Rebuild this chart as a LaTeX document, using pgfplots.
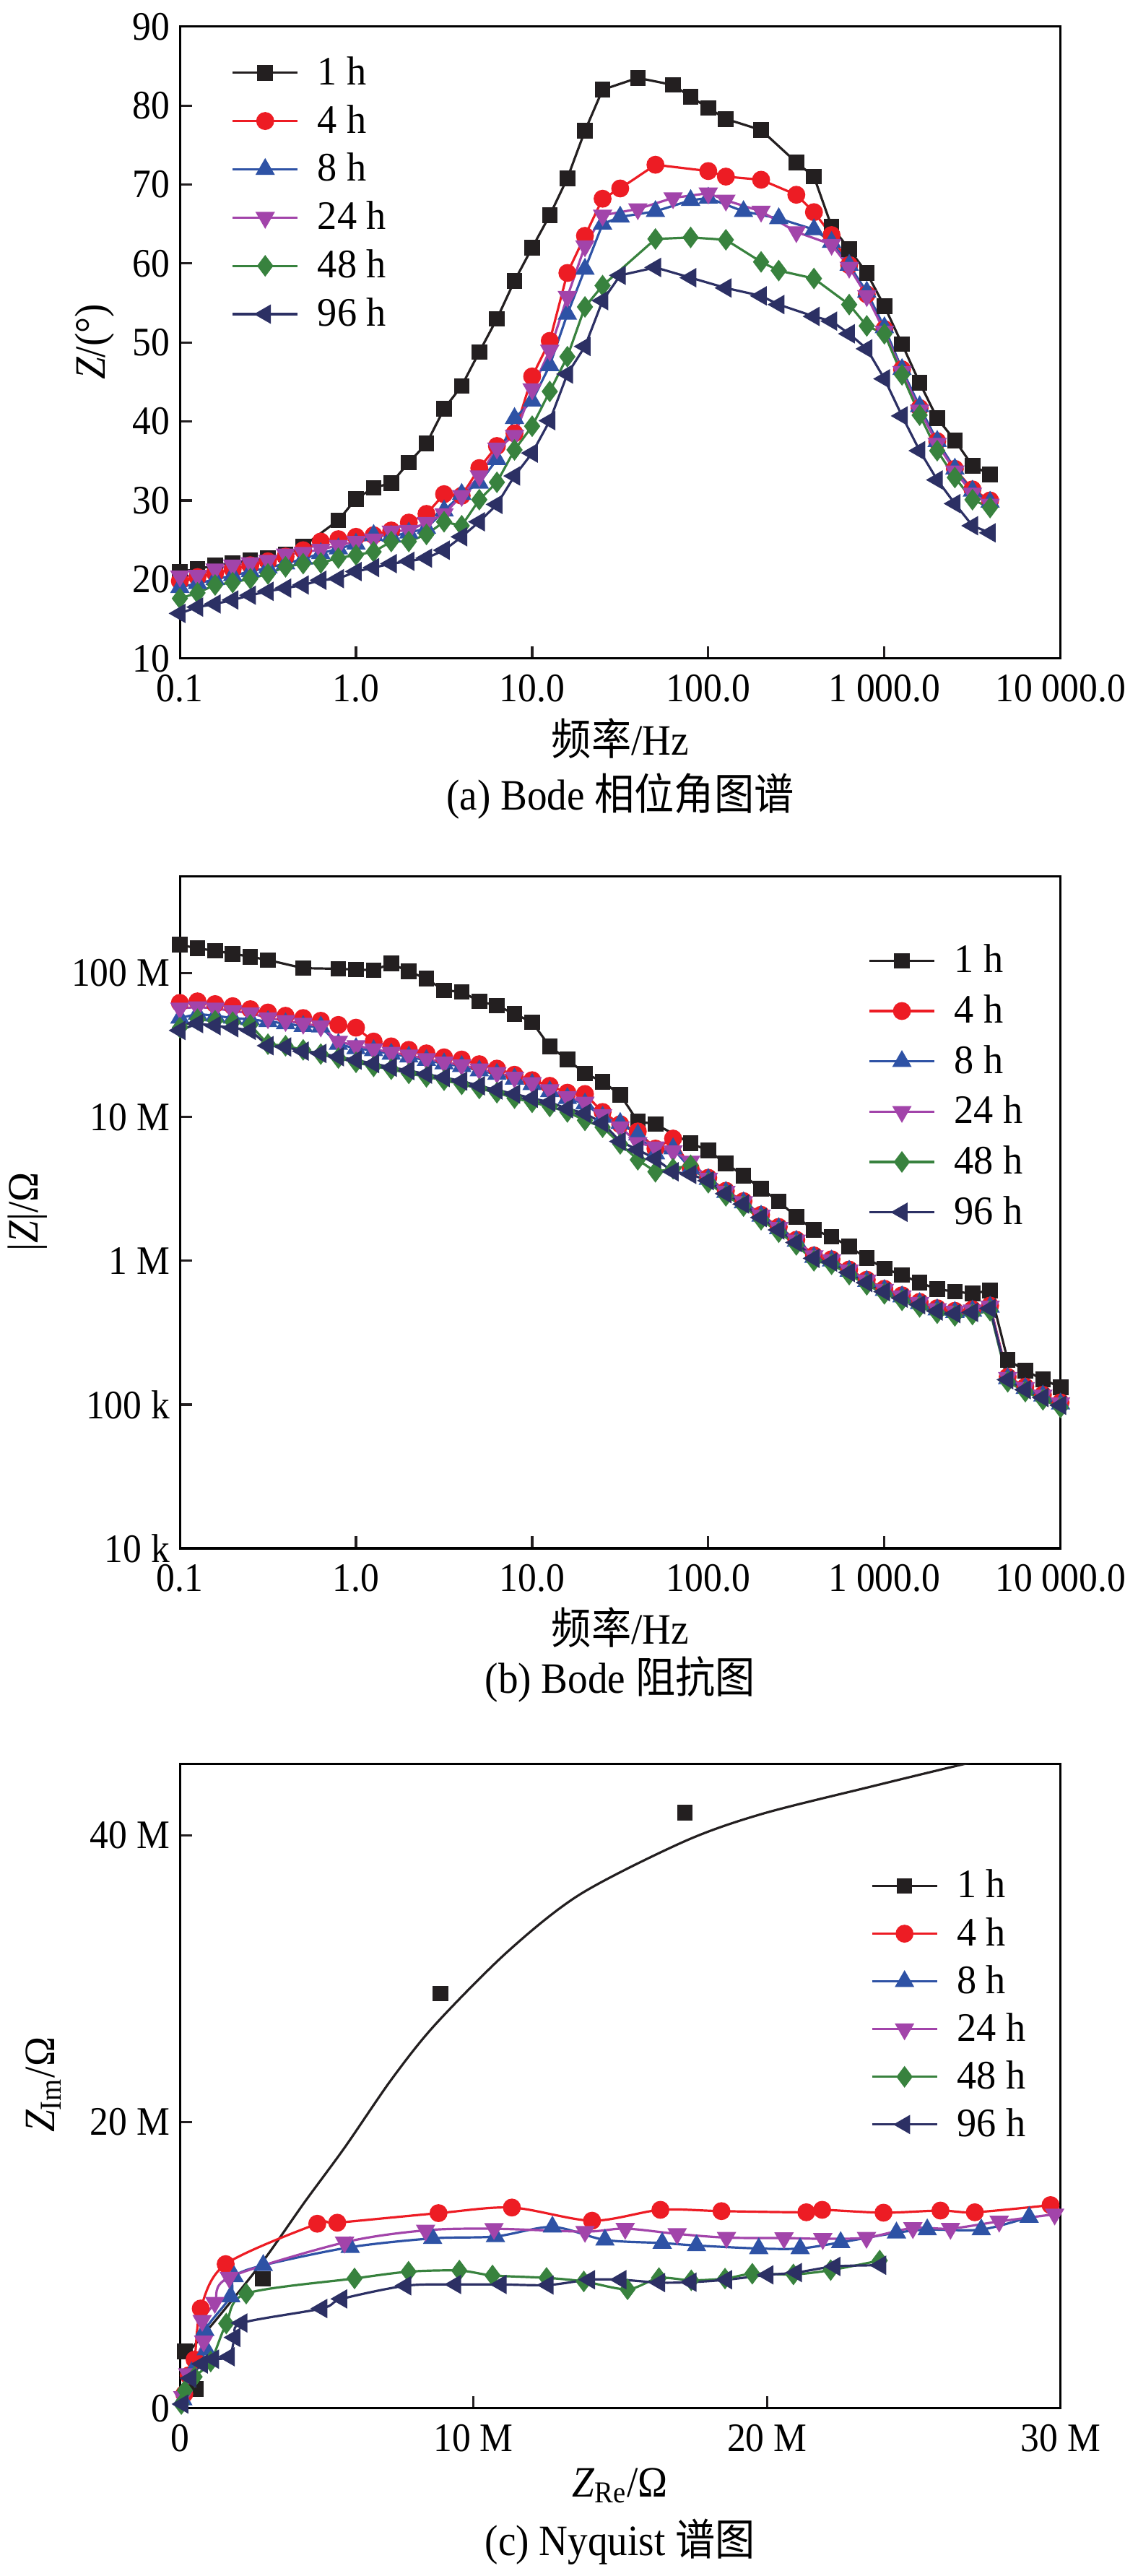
\documentclass[border=0pt]{standalone}
\usepackage{pgfplots}
\pgfplotsset{compat=1.18}
\usepackage{fontspec}
\setmainfont{Liberation Serif}[FakeStretch=0.92]
\newfontfamily\legfam{Liberation Serif}[FakeStretch=0.97]
\newfontface\itf{Liberation Serif Italic}[FakeStretch=0.92]
\newfontfamily\cjk{Noto Sans CJK SC}[FakeStretch=0.92]
\newcommand{\tickfont}{\fontsize{14}{16}\selectfont}
\newcommand{\legfont}{\legfam\fontsize{14}{16}\selectfont}
\newcommand{\labfont}{\fontsize{15}{17}\selectfont}
\newcommand{\iz}{{\itf Z}}
\definecolor{cblack}{RGB}{35,31,32}
\definecolor{cred}{RGB}{237,28,36}
\definecolor{cblue}{RGB}{46,82,165}
\definecolor{cpurple}{RGB}{162,68,170}
\definecolor{cgreen}{RGB}{56,130,62}
\definecolor{cnavy}{RGB}{44,48,100}
\pgfplotsset{
  /pgf/number format/assume math mode=true,
  myaxis/.style={scale only axis, width=304.9pt, anchor=north west,
    tick align=inside, tick pos=left, major tick length=4.25pt, minor tick length=0pt,
    axis line style={line width=0.8pt}, tick style={line width=0.8pt, cblack},
    tick label style={font=\tickfont}, xticklabel style={yshift=-2pt},
    label style={font=\labfont},
    legend cell align=left,
    legend style={draw=none, fill=none, font=\legfont, row sep=3.5pt, inner sep=0pt,
      nodes={inner sep=1pt}, /tikz/every odd column/.append style={column sep=5.5pt}},
    legend image code/.code={\draw[mark repeat=2,mark phase=2] plot coordinates {(0pt,0pt) (11.25pt,0pt) (22.5pt,0pt)};}},
  sA/.style={cblack, line width=0.8pt, mark=square*, mark size=2.3pt},
  sB/.style={cred, line width=0.8pt, mark=*, mark size=2.7pt},
  sC/.style={cblue, line width=0.8pt, mark=triangle*, mark size=3.1pt},
  sD/.style={cpurple, line width=0.8pt, mark=triangle*, mark size=3.1pt, mark options={rotate=180}},
  sE/.style={cgreen, line width=0.8pt, mark=diamond*, mark size=3.1pt},
  sF/.style={cnavy, line width=0.8pt, mark=triangle*, mark size=3.1pt, mark options={rotate=90}},
}
\begin{document}
\begin{tikzpicture}
\path[use as bounding box] (0,0) rectangle (393.75pt,-891.75pt);
% ---------------- (a) ----------------
\begin{axis}[myaxis, at={(62.28pt,-9.18pt)}, height=218.75pt,
  xmode=log, xmin=0.1, xmax=10000, ymin=10, ymax=90,
  xtick={0.1,1,10,100,1000,10000}, xticklabels={0.1,1.0,10.0,100.0,1 000.0,10 000.0},
  ytick={10,20,30,40,50,60,70,80,90},
  xlabel={{\cjk 频率}/Hz}, xlabel style={at={(axis description cs:0.5,-0.127)}, anchor=center},
  ylabel={\iz/(°)}, ylabel style={at={(axis description cs:-0.097,0.501)}, anchor=center},
  legend style={at={(0.058,0.958)}, anchor=north west}]
\addplot[sA] coordinates {(0.1,21.0)(0.1259,21.3)(0.1585,21.8)(0.1995,22.1)(0.2512,22.4)(0.3162,22.7)(0.3981,23.2)(0.5012,24.2)(0.7943,27.5)(1,30.2)(1.259,31.6)(1.585,32.2)(1.995,34.8)(2.512,37.2)(3.162,41.6)(3.981,44.5)(5.012,48.8)(6.31,53.0)(7.943,57.8)(10,62.0)(12.59,66.1)(15.85,70.8)(19.95,76.8)(25.12,82.0)(39.81,83.5)(63.1,82.6)(79.43,81.1)(100,79.7)(125.9,78.3)(199.5,76.9)(316.2,72.8)(398.1,71.0)(501.2,64.7)(631,61.8)(794.3,58.8)(1000,54.6)(1259,49.8)(1585,44.9)(1995,40.4)(2512,37.6)(3162,34.4)(3981,33.3)};
\addlegendentry{1 h}
\addplot[sB] coordinates {(0.1,19.8)(0.1259,20.3)(0.1585,20.8)(0.1995,21.3)(0.2512,21.8)(0.3162,22.3)(0.3981,22.9)(0.5012,23.7)(0.631,24.8)(0.7943,25.1)(1,25.4)(1.259,25.6)(1.585,26.2)(1.995,27.2)(2.512,28.3)(3.162,30.8)(3.981,30.6)(5.012,34.1)(6.31,36.9)(7.943,38.5)(10,45.7)(12.59,50.2)(15.85,58.8)(19.95,63.5)(25.12,68.2)(31.62,69.5)(50.12,72.5)(100,71.7)(125.9,71.0)(199.5,70.6)(316.2,68.7)(398.1,66.5)(501.2,63.6)(631,59.8)(794.3,56.1)(1000,51.7)(1259,46.6)(1585,41.7)(1995,37.5)(2512,34.0)(3162,31.4)(3981,30.0)};
\addlegendentry{4 h}
\addplot[sC] coordinates {(0.1,19.0)(0.1259,19.5)(0.1585,20.0)(0.1995,20.5)(0.2512,21.0)(0.3162,21.5)(0.3981,22.0)(0.5012,22.6)(0.631,23.3)(0.7943,23.9)(1,24.5)(1.259,25.6)(1.585,25.5)(1.995,25.9)(2.512,26.5)(3.162,28.7)(3.981,30.8)(5.012,32.2)(6.31,35.2)(7.943,40.4)(10,42.6)(12.59,47.1)(15.85,53.6)(19.95,59.3)(25.12,65.0)(31.62,65.9)(50.12,66.6)(79.43,68.0)(100,68.3)(158.5,66.6)(251.2,65.7)(398.1,64.3)(501.2,62.7)(631,59.8)(794.3,56.4)(1000,51.9)(1259,46.6)(1585,41.9)(1995,37.5)(2512,34.0)(3162,31.2)(3981,29.8)};
\addlegendentry{8 h}
\addplot[sD] coordinates {(0.1,20.4)(0.1259,20.5)(0.1585,21.3)(0.1995,21.8)(0.2512,22.1)(0.3162,22.4)(0.3981,23.2)(0.5012,23.4)(0.631,23.8)(0.7943,24.3)(1,24.8)(1.259,25.1)(1.585,26.1)(1.995,26.2)(2.512,27.2)(3.162,28.3)(3.981,30.6)(5.012,33.1)(6.31,36.6)(7.943,38.2)(10,44.1)(12.59,49.0)(15.85,55.8)(19.95,62.2)(25.12,66.1)(39.81,66.9)(63.1,68.3)(100,68.9)(125.9,68.0)(199.5,66.6)(316.2,64.0)(501.2,62.4)(631,59.5)(794.3,55.9)(1000,51.4)(1259,46.3)(1585,41.4)(1995,37.2)(2512,33.7)(3162,30.9)(3981,29.5)};
\addlegendentry{24 h}
\addplot[sE] coordinates {(0.1,17.6)(0.1259,18.3)(0.1585,19.3)(0.1995,19.6)(0.2512,20.1)(0.3162,20.7)(0.3981,21.6)(0.5012,22.0)(0.631,22.1)(0.7943,22.7)(1,23.1)(1.259,23.5)(1.585,24.8)(1.995,24.8)(2.512,25.7)(3.162,27.3)(3.981,26.8)(5.012,30.1)(6.31,32.3)(7.943,36.4)(10,39.4)(12.59,43.8)(15.85,48.2)(19.95,54.5)(25.12,57.2)(50.12,63.1)(79.43,63.3)(125.9,63.0)(199.5,60.2)(251.2,59.1)(398.1,58.1)(631,54.8)(794.3,52.1)(1000,51.1)(1259,45.9)(1585,40.8)(1995,36.3)(2512,32.9)(3162,30.1)(3981,29.1)};
\addlegendentry{48 h}
\addplot[sF] coordinates {(0.1,15.7)(0.1259,16.5)(0.1585,16.9)(0.1995,17.4)(0.2512,18.0)(0.3162,18.5)(0.3981,18.9)(0.5012,19.3)(0.631,19.9)(0.7943,20.1)(1,21.0)(1.259,21.5)(1.585,22.0)(1.995,22.3)(2.512,22.7)(3.162,23.7)(3.981,25.4)(5.012,27.3)(6.31,29.5)(7.943,33.1)(10,36.0)(12.59,40.1)(15.85,46.0)(19.95,49.5)(25.12,55.3)(31.62,58.5)(50.12,59.5)(79.43,58.2)(125.9,56.9)(199.5,55.9)(251.2,54.8)(398.1,53.3)(501.2,52.7)(631,51.1)(794.3,49.2)(1000,45.4)(1259,40.7)(1585,36.3)(1995,32.6)(2512,29.6)(3162,26.8)(3981,25.9)};
\addlegendentry{96 h}
\end{axis}
\node[font=\labfont] at (214.7pt,-275.5pt) {(a) Bode {\cjk 相位角图谱}};
% ---------------- (b) ----------------
\begin{axis}[myaxis, at={(62.28pt,-303.45pt)}, height=232.55pt,
  xmode=log, ymode=log, xmin=0.1, xmax=10000, ymin=1e4, ymax=4.7e8,
  xtick={0.1,1,10,100,1000,10000}, xticklabels={0.1,1.0,10.0,100.0,1 000.0,10 000.0},
  ytick={1e4,1e5,1e6,1e7,1e8}, yticklabels={10 k,100 k,1 M,10 M,100 M},
  xlabel={{\cjk 频率}/Hz}, xlabel style={at={(axis description cs:0.5,-0.118)}, anchor=center},
  ylabel={|\iz|/Ω}, ylabel style={at={(axis description cs:-0.173,0.501)}, anchor=center},
  legend style={at={(0.781,0.904)}, anchor=north west, row sep=4.2pt}]
\addplot[sA] coordinates {(0.1,1.578e8)(0.1259,1.489e8)(0.1585,1.432e8)(0.1995,1.365e8)(0.2512,1.303e8)(0.3162,1.236e8)(0.5012,1.084e8)(0.7943,1.074e8)(1,1.059e8)(1.259,1.050e8)(1.585,1.167e8)(1.995,1.028e8)(2.512,9.16e7)(3.162,7.60e7)(3.981,7.43e7)(5.012,6.37e7)(6.31,5.96e7)(7.943,5.21e7)(10,4.57e7)(12.59,3.09e7)(15.85,2.51e7)(19.95,2.01e7)(25.12,1.762e7)(31.62,1.429e7)(39.81,9.31e6)(50.12,8.93e6)(79.43,6.56e6)(100,5.85e6)(125.9,4.75e6)(158.5,3.91e6)(199.5,3.18e6)(251.2,2.59e6)(316.2,2.02e6)(398.1,1.64e6)(501.2,1.469e6)(631,1.256e6)(794.3,1.042e6)(1000,8.83e5)(1259,7.96e5)(1585,7.05e5)(1995,6.35e5)(2512,6.10e5)(3162,5.92e5)(3981,6.22e5)(5012,2.04e5)(6310,1.726e5)(7943,1.493e5)(10000,1.321e5)};
\addlegendentry{1 h}
\addplot[sB] coordinates {(0.1,6.22e7)(0.1259,6.37e7)(0.1585,6.10e7)(0.1995,5.90e7)(0.2512,5.62e7)(0.3162,5.33e7)(0.3981,5.06e7)(0.5012,4.88e7)(0.631,4.67e7)(0.7943,4.37e7)(1,4.18e7)(1.259,3.35e7)(1.585,3.10e7)(1.995,2.93e7)(2.512,2.77e7)(3.162,2.60e7)(3.981,2.51e7)(5.012,2.33e7)(6.31,2.17e7)(7.943,1.968e7)(10,1.803e7)(12.59,1.648e7)(15.85,1.476e7)(19.95,1.445e7)(25.12,1.084e7)(31.62,8.91e6)(39.81,7.94e6)(50.12,6.03e6)(63.1,7.08e6)(79.43,4.37e6)(100,3.78e6)(125.9,3.07e6)(158.5,2.60e6)(199.5,2.09e6)(251.2,1.72e6)(316.2,1.40e6)(398.1,1.09e6)(501.2,1.025e6)(631,8.69e5)(794.3,7.38e5)(1000,6.39e5)(1259,5.76e5)(1585,5.18e5)(1995,4.68e5)(2512,4.49e5)(3162,4.59e5)(3981,4.88e5)(5012,1.56e5)(6310,1.33e5)(7943,1.17e5)(10000,1.035e5)};
\addlegendentry{4 h}
\addplot[sC] coordinates {(0.1,4.88e7)(0.1259,5.21e7)(0.1585,5.06e7)(0.1995,4.88e7)(0.2512,4.78e7)(0.3162,4.62e7)(0.3981,4.47e7)(0.5012,4.28e7)(0.631,4.24e7)(0.7943,3.21e7)(1,3.00e7)(1.259,2.90e7)(1.585,2.74e7)(1.995,2.62e7)(2.512,2.48e7)(3.162,2.35e7)(3.981,2.25e7)(5.012,2.10e7)(6.31,1.986e7)(7.943,1.841e7)(10,1.687e7)(12.59,1.507e7)(15.85,1.349e7)(19.95,1.236e7)(25.12,1.00e7)(31.62,9.06e6)(39.81,7.52e6)(50.12,5.56e6)(63.1,6.03e6)(79.43,4.37e6)(100,3.69e6)(125.9,3.00e6)(158.5,2.54e6)(199.5,2.05e6)(251.2,1.68e6)(316.2,1.37e6)(398.1,1.06e6)(501.2,1.00e6)(631,8.49e5)(794.3,7.21e5)(1000,6.24e5)(1259,5.63e5)(1585,5.06e5)(1995,4.57e5)(2512,4.39e5)(3162,4.48e5)(3981,4.77e5)(5012,1.52e5)(6310,1.30e5)(7943,1.15e5)(10000,1.012e5)};
\addlegendentry{8 h}
\addplot[sD] coordinates {(0.1,5.70e7)(0.1259,5.82e7)(0.1585,5.70e7)(0.1995,5.46e7)(0.2512,5.28e7)(0.3162,4.88e7)(0.3981,4.67e7)(0.5012,4.47e7)(0.631,4.28e7)(0.7943,3.35e7)(1,3.13e7)(1.259,2.97e7)(1.585,2.81e7)(1.995,2.69e7)(2.512,2.54e7)(3.162,2.40e7)(3.981,2.30e7)(5.012,2.15e7)(6.31,2.03e7)(7.943,1.884e7)(10,1.726e7)(12.59,1.542e7)(15.85,1.380e7)(19.95,1.265e7)(25.12,1.035e7)(31.62,8.51e6)(39.81,6.61e6)(50.12,6.17e6)(63.1,5.79e6)(79.43,4.91e6)(100,3.74e6)(125.9,3.03e6)(158.5,2.57e6)(199.5,2.07e6)(251.2,1.70e6)(316.2,1.39e6)(398.1,1.08e6)(501.2,1.013e6)(631,8.59e5)(794.3,7.30e5)(1000,6.31e5)(1259,5.69e5)(1585,5.12e5)(1995,4.63e5)(2512,4.44e5)(3162,4.53e5)(3981,4.82e5)(5012,1.54e5)(6310,1.31e5)(7943,1.16e5)(10000,1.024e5)};
\addlegendentry{24 h}
\addplot[sE] coordinates {(0.1,4.18e7)(0.1259,4.78e7)(0.1585,4.67e7)(0.1995,4.57e7)(0.2512,4.37e7)(0.3162,3.21e7)(0.3981,3.13e7)(0.5012,2.93e7)(0.631,2.74e7)(0.7943,2.57e7)(1,2.40e7)(1.259,2.25e7)(1.585,2.15e7)(1.995,2.01e7)(2.512,1.901e7)(3.162,1.803e7)(3.981,1.687e7)(5.012,1.578e7)(6.31,1.476e7)(7.943,1.352e7)(10,1.265e7)(12.59,1.183e7)(15.85,1.084e7)(19.95,9.48e6)(25.12,8.49e6)(31.62,6.50e6)(39.81,5.04e6)(50.12,4.16e6)(63.1,4.37e6)(79.43,4.61e6)(100,3.49e6)(125.9,2.83e6)(158.5,2.40e6)(199.5,1.93e6)(251.2,1.58e6)(316.2,1.29e6)(398.1,1.00e6)(501.2,9.46e5)(631,8.02e5)(794.3,6.81e5)(1000,5.89e5)(1259,5.31e5)(1585,4.78e5)(1995,4.32e5)(2512,4.14e5)(3162,4.23e5)(3981,4.50e5)(5012,1.44e5)(6310,1.23e5)(7943,1.08e5)(10000,9.55e4)};
\addlegendentry{48 h}
\addplot[sF] coordinates {(0.1,4.00e7)(0.1259,4.467e7)(0.1585,4.315e7)(0.1995,4.178e7)(0.2512,4.00e7)(0.3162,3.133e7)(0.3981,3.069e7)(0.5012,2.871e7)(0.631,2.767e7)(0.7943,2.624e7)(1,2.489e7)(1.259,2.350e7)(1.585,2.218e7)(1.995,2.104e7)(2.512,1.986e7)(3.162,1.884e7)(3.981,1.778e7)(5.012,1.648e7)(6.31,1.542e7)(7.943,1.445e7)(10,1.352e7)(12.59,1.265e7)(15.85,1.143e7)(19.95,1.059e7)(25.12,9.08e6)(31.62,6.76e6)(39.81,5.92e6)(50.12,5.12e6)(63.1,4.16e6)(79.43,3.99e6)(100,3.61e6)(125.9,2.93e6)(158.5,2.48e6)(199.5,2.00e6)(251.2,1.64e6)(316.2,1.34e6)(398.1,1.04e6)(501.2,9.79e5)(631,8.30e5)(794.3,7.05e5)(1000,6.10e5)(1259,5.50e5)(1585,4.95e5)(1995,4.47e5)(2512,4.29e5)(3162,4.38e5)(3981,4.66e5)(5012,1.49e5)(6310,1.27e5)(7943,1.12e5)(10000,9.89e4)};
\addlegendentry{96 h}
\end{axis}
\node[font=\labfont] at (214.7pt,-581.25pt) {(b) Bode {\cjk 阻抗图}};
% ---------------- (c) ----------------
\begin{axis}[myaxis, at={(62.28pt,-610.6pt)}, height=223.1pt,
  xmin=0, xmax=30, ymin=0, ymax=45,
  xtick={0,10,20,30}, xticklabels={0,10 M,20 M,30 M},
  ytick={0,20,40}, yticklabels={0,20 M,40 M},
  xlabel={\iz\textsubscript{Re}/Ω}, xlabel style={at={(axis description cs:0.5,-0.12)}, anchor=center},
  ylabel={\iz\textsubscript{Im}/Ω}, ylabel style={at={(axis description cs:-0.155,0.502)}, anchor=center},
  legend style={at={(0.784,0.841)}, anchor=north west, row sep=3.3pt}]
\addplot[cblack, line width=0.8pt, smooth, forget plot] coordinates {(0.15,3.6)(1.24,6.2)(2.84,10.3)(4.25,14.4)(5.61,18.2)(7.22,23.0)(8.70,26.8)(11.17,31.9)(13.64,35.9)(17.2,39.6)(19.82,41.5)(23.52,43.4)(26.74,45.0)(28.5,45.8)};
\addplot[sA, only marks, legend image code/.code={\draw (0pt,0pt)--(22.5pt,0pt); \draw plot coordinates {(11.25pt,0pt)};}] coordinates {(0.17,3.98)(0.54,1.35)(2.82,9.04)(8.87,28.97)(17.2,41.6)};
\addlegendentry{1 h}
\addplot[sB, smooth] coordinates {(0.15,1.0)(0.3,2.3)(0.5,3.4)(0.71,6.97)(1.56,10.07)(4.68,12.89)(5.36,12.96)(8.81,13.63)(11.31,14.02)(14.04,13.10)(16.37,13.86)(18.45,13.77)(21.34,13.69)(21.88,13.86)(23.97,13.66)(25.91,13.81)(27.08,13.69)(29.66,14.19)};
\addlegendentry{4 h}
\addplot[sC, smooth] coordinates {(0.1,0.6)(0.4,2.5)(0.9,4.1)(0.85,5.45)(1.73,7.81)(1.85,9.2)(2.84,9.99)(5.8,11.25)(8.61,11.87)(10.75,12.0)(12.69,12.67)(14.48,11.76)(16.43,11.54)(17.6,11.37)(19.72,11.16)(21.13,11.16)(22.51,11.59)(24.41,12.26)(25.46,12.48)(27.3,12.48)(28.93,13.35)};
\addlegendentry{8 h}
\addplot[sD, smooth] coordinates {(0.1,0.8)(0.27,2.4)(0.81,4.69)(0.76,6.12)(1.19,7.38)(1.68,9.14)(5.61,11.59)(8.37,12.43)(10.70,12.54)(13.80,12.34)(15.17,12.55)(16.94,12.18)(18.62,11.92)(20.58,11.89)(21.9,11.84)(23.39,11.92)(24.97,12.6)(26.25,12.55)(27.91,13.05)(29.8,13.55)};
\addlegendentry{24 h}
\addplot[sE, smooth] coordinates {(0.05,0.3)(0.17,1.25)(0.5,2.2)(1.05,3.27)(1.58,5.92)(2.26,8.01)(5.95,9.07)(7.79,9.54)(9.52,9.62)(10.65,9.28)(12.49,9.11)(13.76,8.86)(15.25,8.31)(16.32,9.1)(17.42,8.94)(18.57,9.06)(19.5,9.4)(20.9,9.35)(22.17,9.65)(23.84,10.32)};
\addlegendentry{48 h}
\addplot[sF, smooth] coordinates {(0.1,0.3)(0.37,2.1)(0.76,3.1)(1.14,3.43)(1.68,3.6)(1.87,4.95)(2.11,5.96)(4.83,6.97)(5.51,7.64)(7.69,8.56)(9.39,8.65)(10.94,8.65)(12.54,8.61)(13.95,8.98)(15.02,8.98)(16.34,8.78)(17.41,8.81)(18.62,8.98)(20.03,9.32)(21.0,9.48)(22.31,9.91)(23.87,9.99)};
\addlegendentry{96 h}
\end{axis}
\node[font=\labfont] at (214.7pt,-880pt) {(c) Nyquist {\cjk 谱图}};
\end{tikzpicture}
\end{document}
